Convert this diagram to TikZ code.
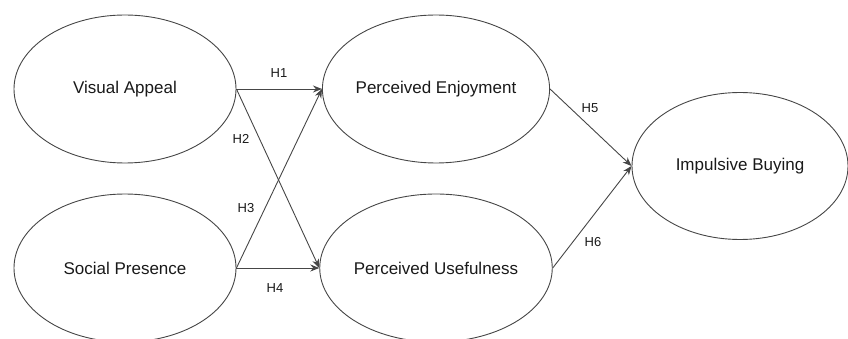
\documentclass[tikz,border=0pt]{standalone}
\usepackage{fontspec}
\setmainfont{Liberation Sans}
\usetikzlibrary{shapes.geometric,arrows.meta}
\definecolor{stroke}{RGB}{70,70,70}
\definecolor{txt}{RGB}{25,25,25}
\begin{document}
\begin{tikzpicture}[x=1pt,y=-1pt,
  construct/.style={draw=stroke, line width=0.9pt, ellipse, inner sep=0pt,
    minimum width=222pt, minimum height=148pt, font=\fontsize{17}{20}\selectfont, text=txt},
  link/.style={draw=stroke, line width=0.9pt, -{Stealth[length=9pt,width=7pt]}},
  hyp/.style={font=\fontsize{13}{15}\selectfont, text=txt, inner sep=0pt}]
\useasboundingbox (0,0) rectangle (848,339);
\node[construct] (va) at (125,89) {Visual Appeal};
\node[construct] (sp) at (125,268) {Social Presence};
\node[construct] (pe) at (436,89) {Perceived Enjoyment};
\node[construct] (pu) at (436,268) {Perceived Usefulness};
\node[construct, minimum width=216pt, minimum height=147pt] (ib) at (740,166) {Impulsive Buying};
\draw[link] (va.east) -- (pe.west);
\draw[link] (va.east) -- (pu.west);
\draw[link] (sp.east) -- (pe.west);
\draw[link] (sp.east) -- (pu.west);
\draw[link] (pe.east) -- (ib.west);
\draw[link] (pu.east) -- (ib.west);
\node[hyp] (h1) at (279,73) {H1};
\node[hyp] (h2) at (241,139) {H2};
\node[hyp] (h3) at (246,208) {H3};
\node[hyp] (h4) at (275,288) {H4};
\node[hyp] (h5) at (590,108) {H5};
\node[hyp] (h6) at (593,242) {H6};
\end{tikzpicture}
\end{document}
